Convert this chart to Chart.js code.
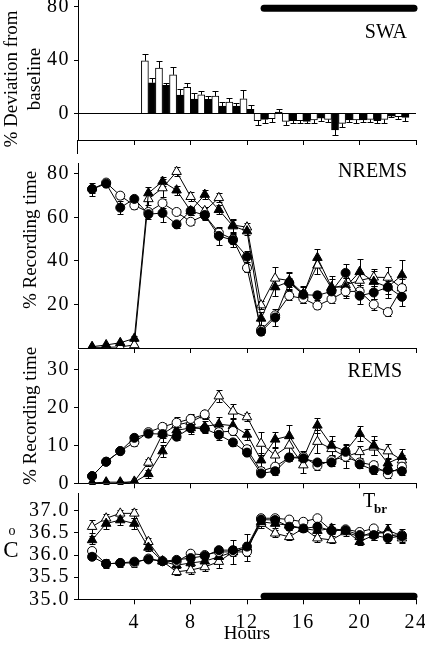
<!DOCTYPE html>
<html>
<head>
<meta charset="UTF-8">
<title>SWA / NREMS / REMS / Tbr</title>
<script src="https://cdn.jsdelivr.net/npm/chart.js"></script>
<style>
  body { margin: 0; background: #fff; }
  #wrap { position: relative; width: 425px; height: 646px; }
  #wrap canvas { position: absolute; left: 0; top: 0; }
</style>
</head>
<body>
<div id="wrap">
  <canvas id="swa" width="425" height="646"></canvas>
  <canvas id="nrems" width="425" height="646"></canvas>
  <canvas id="rems" width="425" height="646"></canvas>
  <canvas id="tbr" width="425" height="646"></canvas>
</div>
<script>
// ---- data ----
const hours = [1,2,3,4,5,6,7,8,9,10,11,12,13,14,15,16,17,18,19,20,21,22,23];
const swaHours = [5,6,7,8,9,10,11,12,13,14,15,16,17,18,19,20,21,22,23];
const xTicks = [4, 8, 12, 16, 20, 24];
const darkStart = 13, darkEnd = 24;

// SWA, % deviation from baseline (open bars / filled bars)
const swaOpen      = [39.5, 34, 29, 19.5, 14, 13, 8.5, 11, -5.5, -4, -6, -5.5, -5, -4.5, -7.5, -5, -4.5, -4.5, -2.5];
const swaOpenErr   = [5.5, 5.5, 5.5, 3.5, 3, 4, 2.7, 6.5, 3, 2.5, 2.5, 2, 2, 2, 3, 2, 2, 2.5, 1.5];
const swaFilled    = [23, 21, 13.7, 10.7, 10.5, 5.5, 5.5, 3, -4.5, 1, -5.5, -6, -3.5, -12.5, -5, -5, -5.5, -2, -3];
const swaFilledErr = [3.5, 2, 4.5, 4.3, 2.5, 3, 2.5, 3, 2.5, 2, 2, 1.5, 2, 3.5, 1.5, 1.5, 1.5, 1, 3];
const swaTicks = [0, 40, 80];

// NREMS, % recording time
const nremsFC = [73, 75.5, 64.5, 68.5, 61.5, 62, 56.8, 63, 61, 51.5, 49.5, 42, 7.5, 14, 30, 24.5, 24.2, 26, 34.5, 24, 25.5, 28, 23.5];
const nremsOC = [73, 76, 70, 65.5, 62.5, 66.5, 62.5, 58, 61, 53, 50, 36.8, 8.3, 15, 24, 22.7, 19.5, 22.5, 26, 26, 20, 16.5, 27.5];
const nremsOT = [0.3, 0.3, 0.5, 1.4, 68.5, 73.5, 81, 69.5, 63, 69, 56.5, 55.5, 19.7, 32, 31, 25, 38, 27.5, 29, 31, 32.5, 32.4, 27.5];
const nremsFT = [0.6, 1.4, 2.4, 4.4, 71.2, 76.5, 72.5, 63, 70.5, 63.5, 56, 53.7, 13.6, 28, 30.5, 24.5, 41.5, 28, 28, 35, 30.5, 28, 33.5];
const nremsFCErr = [3, 1.5, 3, 1.5, 2, 4, 1.5, 2, 1.5, 4, 3, 2.5, 1.5, 4, 2, 2, 2, 2, 4, 4, 3, 3, 4];
const nremsOCErr = [2, 1.5, 1.5, 1.5, 2, 2, 1.5, 1.5, 2, 2, 2, 2, 1.5, 1.5, 2, 2, 1.5, 2, 3, 3, 2.5, 2, 2];
const nremsOTErr = [0.5, 0.5, 0.5, 0.5, 3, 4, 2, 2, 2, 2, 3, 2, 2, 5, 4, 3, 4, 4, 3, 4, 4, 5, 4];
const nremsFTErr = [0.5, 0.5, 0.5, 1, 3, 2, 2, 2, 2, 2, 3, 2, 3, 4, 4, 4, 4, 5, 4, 6, 5, 5, 7];
const nremsTicks = [20, 40, 60, 80];

// REMS, % recording time
const remsFC = [1.9, 5.7, 8.5, 12, 13.1, 13, 12.3, 14.6, 14.4, 12.8, 10.8, 8.1, 2.6, 3.2, 6.8, 6.6, 5.5, 5.5, 8.3, 5, 3.5, 3.5, 3.2];
const remsOC = [1.9, 5.7, 8.5, 10.8, 13.5, 14.9, 16, 17, 18.2, 13.5, 13.8, 9, 3.2, 4.4, 6.8, 7, 4.6, 6.1, 7, 5.5, 4.8, 2.4, 4.4];
const remsOT = [0, 0, 0, 0.5, 5.5, 13, 15.4, 16.2, 18, 23, 19, 17.5, 10.5, 7.4, 10, 4.8, 11, 9.1, 7, 8.3, 9.5, 8.5, 6.1];
const remsFT = [0.1, 0.3, 0.3, 0.3, 2.5, 8.5, 14, 14.6, 15, 15.6, 15.2, 12.9, 6.1, 11.6, 12.5, 6.6, 15.3, 10, 8.5, 13.1, 10, 5.3, 7];
const remsFCErr = [0.5, 0.5, 0.5, 1, 1, 1, 1, 1, 1, 1.5, 1, 1, 0.5, 1, 1, 1, 1, 1, 1, 1, 1, 1, 1];
const remsOCErr = [0.5, 0.5, 0.5, 1, 1, 1, 1, 1, 1, 1, 1, 1, 1, 1, 1, 1, 1, 1, 1, 1, 1, 1, 1];
const remsOTErr = [0.2, 0.2, 0.2, 0.2, 1, 2, 2, 2, 1, 1.5, 2, 1, 3, 2, 2, 2, 3, 2, 3, 1.5, 2, 2, 1.5];
const remsFTErr = [0.2, 0.2, 0.2, 0.2, 1, 1.5, 2, 1.5, 1.5, 2, 2, 1.5, 2, 2, 3, 2, 2, 2.5, 2, 2, 2.5, 1.5, 2];
const remsTicks = [0, 10, 20, 30];

// brain temperature, oC
const tbrFC = [35.96, 35.8, 35.82, 35.85, 35.9, 35.86, 35.89, 35.93, 35.98, 36.11, 36.11, 36.19, 36.8, 36.79, 36.64, 36.6, 36.64, 36.55, 36.56, 36.45, 36.45, 36.38, 36.43];
const tbrOC = [36.09, 35.8, 35.82, 35.82, 35.92, 35.86, 35.85, 36.03, 36.0, 36.07, 36.07, 36.07, 36.83, 36.83, 36.8, 36.75, 36.83, 36.55, 36.58, 36.52, 36.6, 36.45, 36.45];
const tbrOT = [36.64, 36.83, 36.94, 36.94, 36.3, 35.86, 35.62, 35.66, 35.73, 35.85, 36.07, 36.15, 36.71, 36.49, 36.41, 36.6, 36.38, 36.34, 36.52, 36.41, 36.52, 36.48, 36.38];
const tbrFT = [36.34, 36.71, 36.79, 36.71, 36.17, 35.86, 35.77, 35.82, 35.86, 35.96, 36.07, 36.17, 36.75, 36.71, 36.67, 36.6, 36.55, 36.6, 36.55, 36.3, 36.45, 36.56, 36.43];
const tbrFCErr = [0.06, 0.1, 0.08, 0.06, 0.06, 0.05, 0.06, 0.06, 0.06, 0.05, 0.1, 0.1, 0.06, 0.06, 0.08, 0.06, 0.08, 0.08, 0.06, 0.08, 0.1, 0.12, 0.08];
const tbrOCErr = [0.05, 0.08, 0.05, 0.08, 0.05, 0.05, 0.05, 0.05, 0.05, 0.05, 0.05, 0.1, 0.05, 0.05, 0.05, 0.05, 0.05, 0.05, 0.05, 0.05, 0.05, 0.05, 0.05];
const tbrOTErr = [0.15, 0.1, 0.08, 0.1, 0.08, 0.05, 0.08, 0.1, 0.1, 0.15, 0.1, 0.1, 0.1, 0.08, 0.08, 0.06, 0.08, 0.08, 0.08, 0.08, 0.08, 0.08, 0.08];
const tbrFTErr = [0.1, 0.12, 0.12, 0.12, 0.08, 0.05, 0.06, 0.06, 0.08, 0.1, 0.28, 0.3, 0.1, 0.1, 0.1, 0.08, 0.1, 0.1, 0.08, 0.08, 0.1, 0.15, 0.15];
const tbrTicks = [35.0, 35.5, 36.0, 36.5, 37.0];

// ---- drawing ----
const FONT = 'Liberation Serif';
const W = 425, H = 646;

// vertical error bars with caps (one-sided for bars)
const errorBars = {
  id: 'errorBars',
  beforeDatasetsDraw(chart) {
    const ctx = chart.ctx, ys = chart.scales.y;
    ctx.letterSpacing = '0px';   // tick labels are done by now
    ctx.save();
    ctx.strokeStyle = '#000';
    ctx.lineWidth = 1;
    chart.data.datasets.forEach((ds, i) => {
      if (!ds.err) return;
      const meta = chart.getDatasetMeta(i);
      ds.data.forEach((p, j) => {
        const e = ds.err[j];
        if (!e) return;
        const x = Math.round(meta.data[j].x) + 0.5;
        const y0 = ys.getPixelForValue(p.y);
        const ends = ds.oneSided ? [p.y + (p.y < 0 ? -e : e)] : [p.y + e, p.y - e];
        ends.forEach(v => {
          const y1 = Math.round(ys.getPixelForValue(v)) + 0.5;
          ctx.beginPath();
          ctx.moveTo(x, y0); ctx.lineTo(x, y1);
          ctx.moveTo(x - 3, y1); ctx.lineTo(x + 3, y1);
          ctx.stroke();
        });
      });
    });
    ctx.restore();
  }
};

// zero line, dark-phase bar, labels
const decor = {
  id: 'decor',
  beforeDraw(chart) {
    // the figure's tick numbers are set a little wide
    chart.ctx.letterSpacing = '1.5px';
  },
  beforeDatasetsDraw(chart, args, o) {
    if (!o.zeroLine) return;
    const ctx = chart.ctx, a = chart.chartArea;
    const y = Math.round(chart.scales.y.getPixelForValue(0)) + 0.5;
    ctx.save();
    ctx.strokeStyle = '#000'; ctx.lineWidth = 1;
    ctx.beginPath(); ctx.moveTo(a.left, y); ctx.lineTo(a.right, y); ctx.stroke();
    ctx.restore();
  },
  afterDraw(chart, args, o) {
    const ctx = chart.ctx, xs = chart.scales.x, ys = chart.scales.y, a = chart.chartArea;
    ctx.save();
    ctx.letterSpacing = '0px';
    ctx.fillStyle = '#000'; ctx.strokeStyle = '#000';
    if (o.axisExt) {
      ctx.lineWidth = 1;
      ctx.beginPath();
      ctx.moveTo(Math.round(a.left) - 0.5, a.bottom);
      ctx.lineTo(Math.round(a.left) - 0.5, a.bottom + o.axisExt);
      ctx.stroke();
    }
    if (o.darkAt != null) {
      const y = ys.getPixelForValue(o.darkAt);
      ctx.lineWidth = 7; ctx.lineCap = 'round';
      ctx.beginPath();
      ctx.moveTo(xs.getPixelForValue(darkStart) + 3, y);
      ctx.lineTo(xs.getPixelForValue(darkEnd) - 2, y);
      ctx.stroke();
    }
    (o.texts || []).forEach(t => {
      ctx.font = t.font;
      ctx.textAlign = t.align || 'left';
      ctx.textBaseline = t.base || 'alphabetic';
      if (t.rot) {
        ctx.save();
        ctx.translate(t.x, t.y);
        ctx.rotate(-Math.PI / 2);
        ctx.fillText(t.text, 0, 0);
        ctx.restore();
      } else {
        ctx.fillText(t.text, t.x, t.y);
      }
    });
    ctx.restore();
  }
};
Chart.register(errorBars, decor);

function pts(xsArr, arr) { return xsArr.map((h, i) => ({ x: h, y: arr[i] })); }

function series(arr, err, style, filled) {
  return {
    type: 'line',
    data: pts(hours, arr),
    err: err,
    borderColor: '#000',
    borderWidth: 1,
    tension: 0,
    pointStyle: style,
    pointRadius: style === 'triangle' ? 5.5 : 4.5,
    pointBackgroundColor: filled ? '#000' : '#fff',
    pointBorderColor: '#000',
    pointBorderWidth: 1
  };
}

function makeChart(id, datasets, p) {
  const xH = p.xLabels ? 30 : 5;
  return new Chart(document.getElementById(id), {
    type: 'line',
    data: { datasets: datasets },
    options: {
      responsive: false,
      animation: false,
      devicePixelRatio: 1,
      layout: { padding: { left: 0, right: 9, top: p.top, bottom: H - p.bottom - xH } },
      plugins: {
        legend: { display: false },
        tooltip: { enabled: false },
        decor: p.decor
      },
      scales: {
        x: {
          type: 'linear', min: 0, max: 24, offset: false,
          afterBuildTicks: s => { s.ticks = xTicks.map(v => ({ value: v })); },
          afterFit: s => { s.height = xH; s.paddingLeft = 0; s.paddingRight = 0; },
          ticks: { display: !!p.xLabels, autoSkip: false, maxRotation: 0, padding: 6, color: '#000',
                   font: { family: FONT, size: 20 } },
          grid: { drawOnChartArea: false, offset: false, tickLength: 5, color: '#000' },
          border: { color: '#000', width: 1 }
        },
        y: {
          min: p.min, max: p.max,
          afterBuildTicks: s => { s.ticks = p.ticks.map(v => ({ value: v })); },
          afterFit: s => { s.width = 78; s.paddingTop = 0; s.paddingBottom = 0; },
          ticks: { autoSkip: false, padding: 4, color: '#000', font: { family: FONT, size: 20 },
                   callback: p.fmt || (v => v) },
          grid: { drawOnChartArea: false, tickLength: 4, color: '#000' },
          border: { color: '#000', width: 1 }
        }
      }
    }
  });
}

const titleFont = '19px "' + FONT + '"';
const panelFont = '20px "' + FONT + '"';

// SWA bars
makeChart('swa', [
  { type: 'bar', data: pts(swaHours, swaOpen), err: swaOpenErr, oneSided: true,
    backgroundColor: '#fff', borderColor: '#000', borderWidth: 1, barPercentage: 1, categoryPercentage: 1 },
  { type: 'bar', data: pts(swaHours, swaFilled), err: swaFilledErr, oneSided: true,
    backgroundColor: '#000', borderColor: '#000', borderWidth: 1, barPercentage: 1, categoryPercentage: 1 }
], {
  top: 0.3, bottom: 140, min: -20, max: 85, ticks: swaTicks,
  decor: {
    zeroLine: true, darkAt: 79, axisExt: 14,
    texts: [
      { text: 'SWA', x: 407, y: 38, font: panelFont, align: 'right' },
      { text: '% Deviation from', x: 12, y: 79, font: titleFont, align: 'center', base: 'middle', rot: true },
      { text: 'baseline', x: 35, y: 79, font: titleFont, align: 'center', base: 'middle', rot: true }
    ]
  }
});

makeChart('nrems', [
  series(nremsFC, nremsFCErr, 'circle', true),
  series(nremsOC, nremsOCErr, 'circle', false),
  series(nremsFT, nremsFTErr, 'triangle', true),
  series(nremsOT, nremsOTErr, 'triangle', false)
], {
  top: 163, bottom: 348, min: 0, max: 85, ticks: nremsTicks,
  decor: {
    texts: [
      { text: 'NREMS', x: 407, y: 177, font: panelFont, align: 'right' },
      { text: '% Recording time', x: 31, y: 240, font: titleFont, align: 'center', base: 'middle', rot: true }
    ]
  }
});

makeChart('rems', [
  series(remsFC, remsFCErr, 'circle', true),
  series(remsOC, remsOCErr, 'circle', false),
  series(remsFT, remsFTErr, 'triangle', true),
  series(remsOT, remsOTErr, 'triangle', false)
], {
  top: 350.7, bottom: 483.3, min: 0, max: 35, ticks: remsTicks,
  decor: {
    texts: [
      { text: 'REMS', x: 402, y: 377, font: panelFont, align: 'right' },
      { text: '% Recording time', x: 31, y: 416, font: titleFont, align: 'center', base: 'middle', rot: true }
    ]
  }
});

makeChart('tbr', [
  series(tbrFC, tbrFCErr, 'circle', true),
  series(tbrOC, tbrOCErr, 'circle', false),
  series(tbrFT, tbrFTErr, 'triangle', true),
  series(tbrOT, tbrOTErr, 'triangle', false)
], {
  top: 493, bottom: 599.3, min: 35, max: 37.4, ticks: tbrTicks, xLabels: true,
  fmt: v => Number(v).toFixed(1),
  decor: {
    darkAt: 35.07,
    texts: [
      { text: 'T', x: 363, y: 507, font: panelFont },
      { text: 'br', x: 374, y: 513, font: 'bold 13px "' + FONT + '"' },
      { text: 'o', x: 12, y: 535, font: '14px "' + FONT + '"', align: 'center' },
      { text: 'C', x: 11, y: 557, font: '23px "' + FONT + '"', align: 'center' },
      { text: 'Hours', x: 247, y: 639, font: titleFont, align: 'center' }
    ]
  }
});
</script>
</body>
</html>
